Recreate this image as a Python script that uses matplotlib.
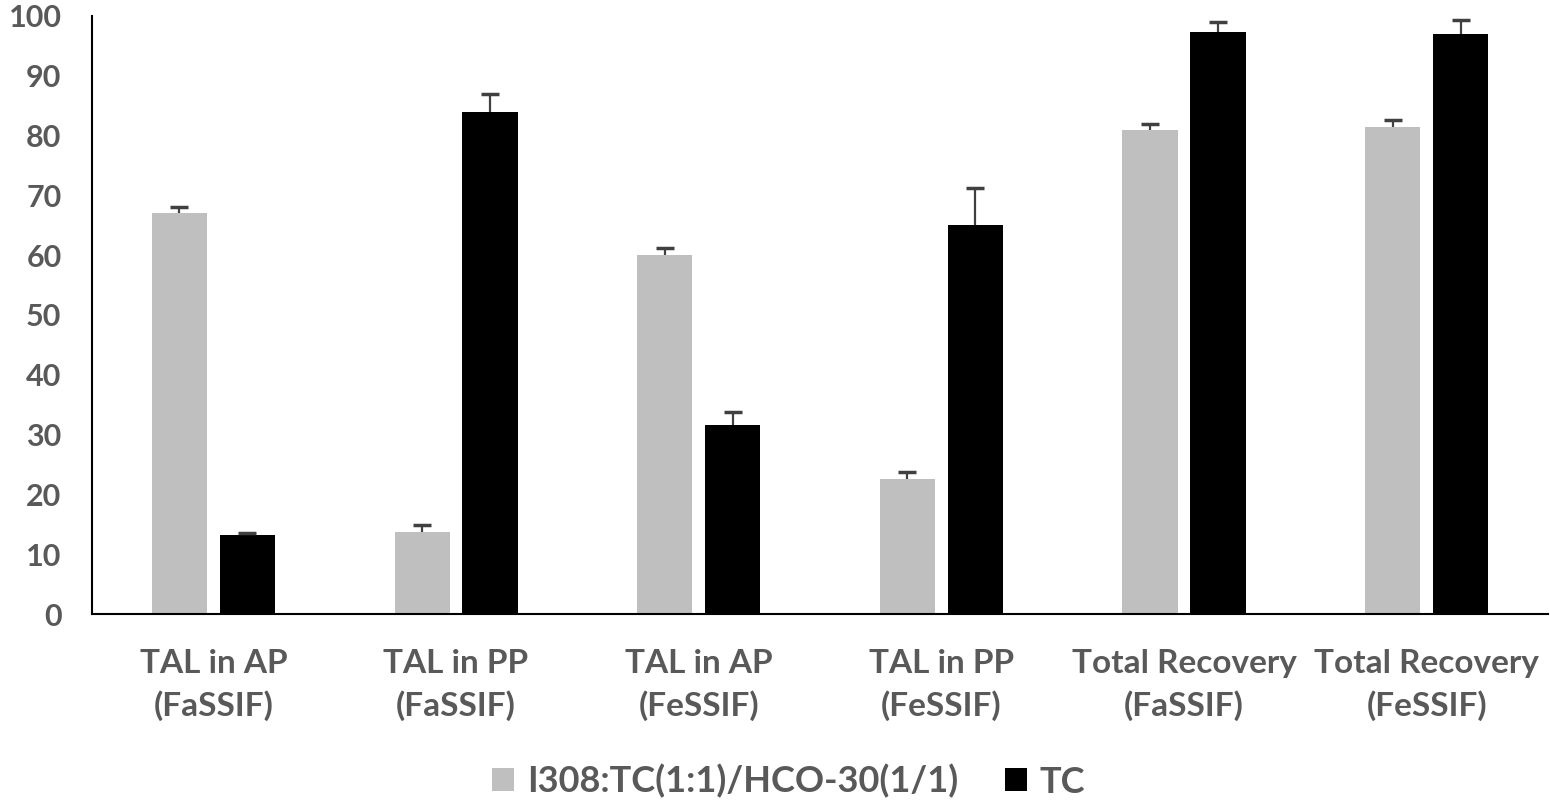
import numpy as np
import matplotlib.pyplot as plt

plt.rcParams['font.family'] = ['Lato', 'DejaVu Sans']
plt.rcParams['font.weight'] = 'bold'

categories = ['TAL in AP\n(FaSSIF)', 'TAL in PP\n(FaSSIF)', 'TAL in AP\n(FeSSIF)',
              'TAL in PP\n(FeSSIF)', 'Total Recovery\n(FaSSIF)', 'Total Recovery\n(FeSSIF)']
mix_vals = [67.1, 13.7, 60.0, 22.6, 80.9, 81.4]
mix_err = [1.0, 1.2, 1.2, 1.1, 1.0, 1.2]
tc_vals = [13.2, 83.9, 31.6, 65.0, 97.3, 97.0]
tc_err = [0.3, 3.1, 2.2, 6.2, 1.7, 2.3]
labels = ['I308:TC(1:1)/HCO-30(1/1)', 'TC']

txt = '#595959'
fig = plt.figure(figsize=(15.5, 8), dpi=100)
ax = fig.add_axes([0.0594, 0.2325, 0.9393, 0.7475])

x = np.arange(len(categories))
w = 0.227
off = 0.14
ax.bar(x - off, mix_vals, w, color='#bfbfbf', label=labels[0])
ax.bar(x + off, tc_vals, w, color='black', label=labels[1])

# upper-only error bars
for xs, vals, err in [(x - off, mix_vals, mix_err), (x + off, tc_vals, tc_err)]:
    vals = np.array(vals)
    err = np.array(err)
    ax.vlines(xs, vals, vals + err, color='#404040', lw=1.6, zorder=3)
    ax.plot(xs, vals + err, ls='none', marker='_', ms=13, mew=2.5, color='#404040', zorder=3)

ax.set_xlim(-0.5, 5.5)
ax.set_ylim(0, 100)
ax.set_yticks(range(0, 101, 10))
ax.set_xticks(x)
ax.set_xticklabels(categories, fontsize=24, color=txt, linespacing=1.5)
ax.tick_params(axis='y', labelsize=22, labelcolor=txt, length=0, pad=22)
ax.tick_params(axis='x', length=0, pad=25)
for s in ['top', 'right']:
    ax.spines[s].set_visible(False)
ax.spines['left'].set_linewidth(1.5)
ax.spines['bottom'].set_linewidth(1.5)

leg = ax.legend(loc='center left', bbox_to_anchor=(0.275, -0.28), ncol=2, frameon=False,
                fontsize=26, handlelength=0.6, handleheight=0.6, columnspacing=1.3,
                handletextpad=0.35, borderpad=0, borderaxespad=0)
for t in leg.get_texts():
    t.set_color(txt)

fig.savefig('out.png')
